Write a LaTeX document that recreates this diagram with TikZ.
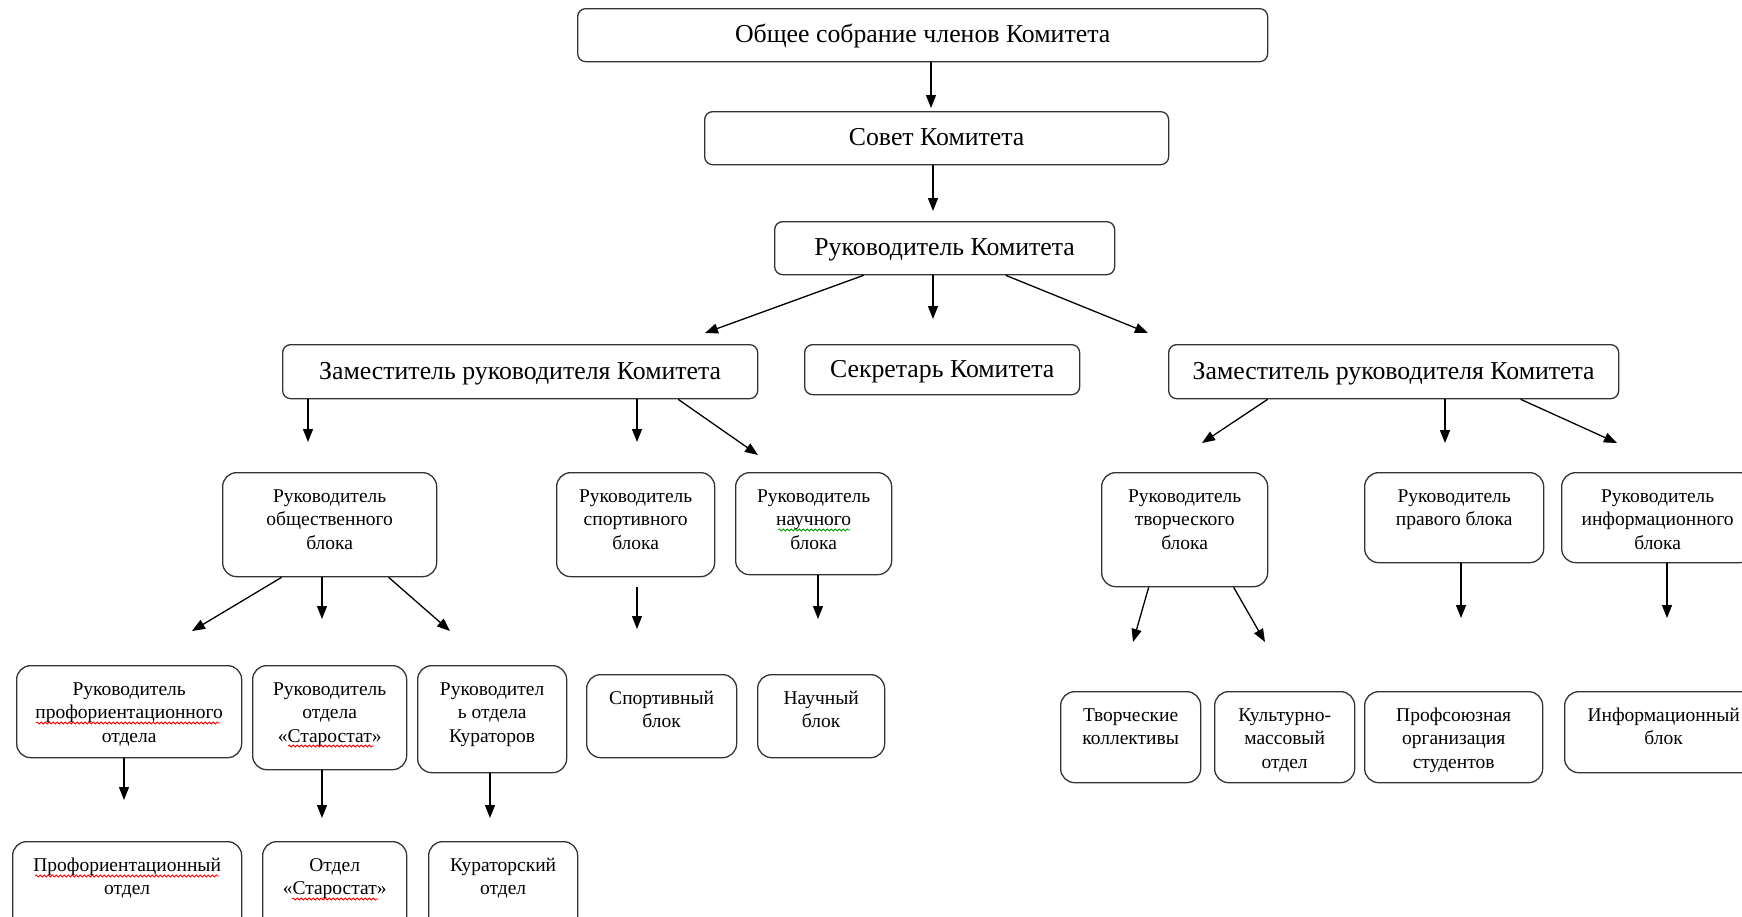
\documentclass[tikz,border=0pt]{standalone}
\usepackage{fontspec}
\setmainfont{Liberation Serif}
\usetikzlibrary{arrows.meta,decorations.pathmorphing}
\newcommand\tbx[3]{\parbox[c][#2pt][t]{#1pt}{\centering\rule{0pt}{30pt}#3}}
\begin{document}
\begin{tikzpicture}[x=1pt,y=-1pt,
  bigbox/.style={draw=black!80, line width=1.3pt, rounded corners=8pt, inner sep=0pt, anchor=north west, font=\fontsize{25.8}{30}\selectfont, text height=19pt, text depth=4pt},
  smallbox/.style={draw=black!80, line width=1.3pt, rounded corners=14pt, inner sep=0pt, anchor=north west, font=\fontsize{19.5}{23.3}\selectfont},
  arr/.style={-{Triangle[length=13pt,width=10pt]}, line width=1.3pt},
  spell/.style={draw=red, line width=0.8pt, decorate, decoration={snake, segment length=4pt, amplitude=1.1pt}},
  gram/.style={spell, draw=green!60!black}]
\useasboundingbox (0,0) rectangle (1742,916);

% top levels
\node[bigbox, minimum width=690pt, minimum height=53pt] (b1) at (577,8) {Общее собрание членов Комитета};
\node[bigbox, minimum width=464pt, minimum height=53pt] (b2) at (704,111) {Совет Комитета};
\node[bigbox, minimum width=340pt, minimum height=53pt] (b3) at (774,221) {Руководитель Комитета};
\node[bigbox, minimum width=475pt, minimum height=54pt] (b4) at (282,344) {Заместитель руководителя Комитета};
\node[bigbox, minimum width=275pt, minimum height=50pt] (b5) at (804,344) {Секретарь Комитета};
\node[bigbox, minimum width=450pt, minimum height=54pt] (b6) at (1168,344) {Заместитель руководителя Комитета};

% row 3
\node[smallbox] (obs) at (222,472) {\tbx{214}{104}{Руководитель\\общественного\\блока}};
\node[smallbox] (spo) at (556,472) {\tbx{158}{104}{Руководитель\\спортивного\\блока}};
\node[smallbox] (nau) at (735,472) {\tbx{156}{102}{Руководитель\\научного\\блока}};
\node[smallbox] (tvo) at (1101,472) {\tbx{166}{114}{Руководитель\\творческого\\блока}};
\node[smallbox] (pra) at (1364,472) {\tbx{179}{90}{Руководитель\\правого блока}};
\node[smallbox] (inf) at (1561,472) {\tbx{192}{90}{Руководитель\\информационного\\блока}};

% row 4
\node[smallbox] (rpo) at (16,665) {\tbx{225}{92}{Руководитель\\профориентационного\\отдела}};
\node[smallbox] (rst) at (252,665) {\tbx{154}{104}{Руководитель\\отдела\\«Старостат»}};
\node[smallbox] (rku) at (417,665) {\tbx{149}{107}{Руководител\\ь отдела\\Кураторов}};
\node[smallbox] (sbl) at (586,674) {\tbx{150}{83}{Спортивный\\блок}};
\node[smallbox] (nbl) at (757,674) {\tbx{127}{83}{Научный\\блок}};
\node[smallbox] (tkl) at (1060,691) {\tbx{140}{91}{Творческие\\коллективы}};
\node[smallbox] (kmo) at (1214,691) {\tbx{140}{91}{Культурно-\\массовый\\отдел}};
\node[smallbox] (pos) at (1364,691) {\tbx{178}{91}{Профсоюзная\\организация\\студентов}};
\node[smallbox] (ibl) at (1564,691) {\tbx{198}{81}{Информационный\\блок}};

% row 5
\node[smallbox] (pot) at (12,841) {\tbx{229}{100}{Профориентационный\\отдел}};
\node[smallbox] (ost) at (262,841) {\tbx{144}{100}{Отдел\\«Старостат»}};
\node[smallbox] (kot) at (428,841) {\tbx{149}{100}{Кураторский\\отдел}};

% spell-check underlines
\coordinate (w1a) at (36,723);  \coordinate (w1b) at (220,723);
\coordinate (w2a) at (288,746); \coordinate (w2b) at (374,746);
\coordinate (w3a) at (35,876);  \coordinate (w3b) at (219,876);
\coordinate (w4a) at (292,899); \coordinate (w4b) at (378,899);
\coordinate (w5a) at (778,530); \coordinate (w5b) at (850,530);
\draw[spell] (w1a) -- (w1b);
\draw[spell] (w2a) -- (w2b);
\draw[spell] (w3a) -- (w3b);
\draw[spell] (w4a) -- (w4b);
\draw[gram] (w5a) -- (w5b);

% free arrow ends
\coordinate (t1) at (931,108);
\coordinate (t2) at (933,211);
\coordinate (ta) at (705,333);
\coordinate (tb) at (933,319);
\coordinate (tc) at (1148,333);
\coordinate (td) at (308,442);
\coordinate (te) at (637,442);
\coordinate (tf) at (758,455);
\coordinate (tg) at (1202,443);
\coordinate (th) at (1445,443);
\coordinate (ti) at (1617,443);
\coordinate (tj) at (192,631);
\coordinate (tk) at (322,619);
\coordinate (tl) at (450,631);
\coordinate (sm) at (637,587);
\coordinate (tm) at (637,629);
\coordinate (tn) at (818,619);
\coordinate (to) at (1133,642);
\coordinate (tp) at (1265,642);
\coordinate (tq) at (1461,618);
\coordinate (tr) at (1667,618);
\coordinate (ts) at (124,800);
\coordinate (tt) at (322,818);
\coordinate (tu) at (490,818);

\draw[arr] (b1.south -| t1) -- (t1);
\draw[arr] (b2.south -| t2) -- (t2);
\draw[arr] ([xshift=-81pt]b3.south) -- (ta);
\draw[arr] (b3.south -| tb) -- (tb);
\draw[arr] ([xshift=61pt]b3.south) -- (tc);
\draw[arr] (b4.south -| td) -- (td);
\draw[arr] (b4.south -| te) -- (te);
\draw[arr] ([xshift=158pt]b4.south) -- (tf);
\draw[arr] ([xshift=-126pt]b6.south) -- (tg);
\draw[arr] (b6.south -| th) -- (th);
\draw[arr] ([xshift=127pt]b6.south) -- (ti);
\draw[arr] ([xshift=-48pt]obs.south) -- (tj);
\draw[arr] (obs.south -| tk) -- (tk);
\draw[arr] ([xshift=59pt]obs.south) -- (tl);
\draw[arr] (sm) -- (tm);
\draw[arr] (nau.south -| tn) -- (tn);
\draw[arr] ([xshift=-36pt]tvo.south) -- (to);
\draw[arr] ([xshift=49pt]tvo.south) -- (tp);
\draw[arr] (pra.south -| tq) -- (tq);
\draw[arr] (inf.south -| tr) -- (tr);
\draw[arr] (rpo.south -| ts) -- (ts);
\draw[arr] (rst.south -| tt) -- (tt);
\draw[arr] (rku.south -| tu) -- (tu);
\end{tikzpicture}
\end{document}
